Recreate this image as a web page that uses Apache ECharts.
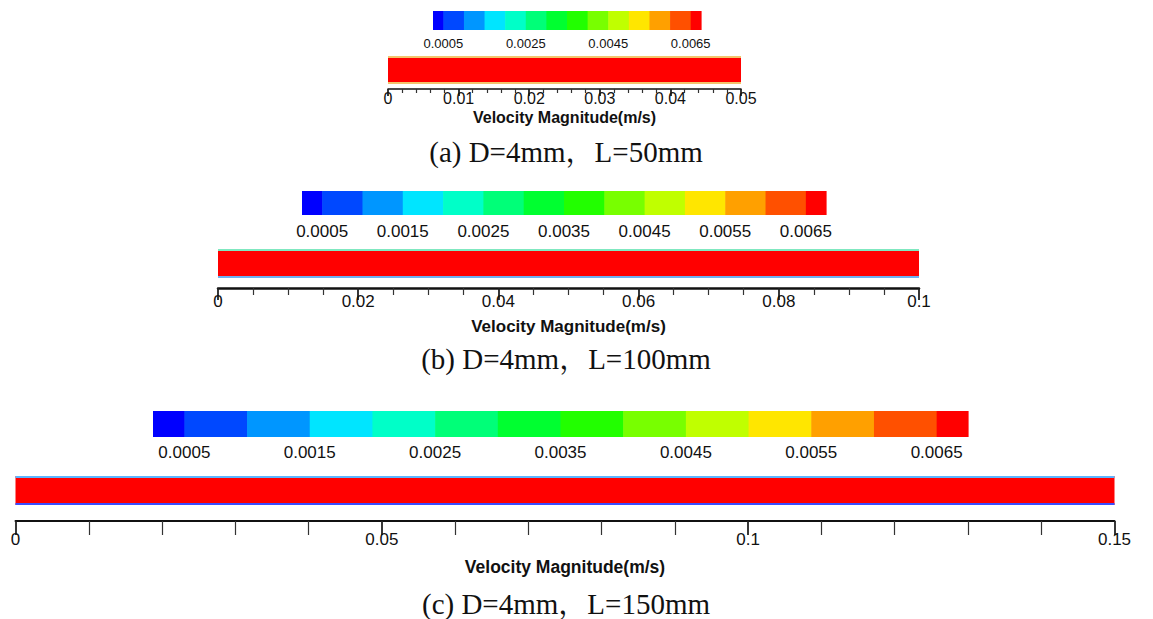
<!DOCTYPE html>
<html>
<head>
<meta charset="utf-8">
<script src="https://cdn.jsdelivr.net/npm/echarts@6/dist/echarts.min.js"></script>
<style>
html,body{margin:0;padding:0;background:#fff;}
#chart{width:1153px;height:619px;}
</style>
</head>
<body>
<div id="chart"></div>
<script>
// ---------- data ----------
const cbEdges = [0.00025, 0.0005, 0.001, 0.0015, 0.002, 0.0025, 0.003, 0.0035, 0.004, 0.0045, 0.005, 0.0055, 0.006, 0.0065, 0.00675];
const cbColors = ['#0000ff', '#0048ff', '#0096ff', '#00e5ff', '#00ffc8', '#00ff78', '#00ff30', '#22ff00', '#78ff00', '#c0ff00', '#ffe600', '#ffa000', '#ff5000', '#ff0000'];
const cbLabelsA = [0.0005, 0.0025, 0.0045, 0.0065];
const cbLabelsBC = [0.0005, 0.0015, 0.0025, 0.0035, 0.0045, 0.0055, 0.0065];
const pipeLengths = [0.05, 0.1, 0.15];
const tickIntervals = [0.01, 0.02, 0.05];
const minorSplits = [5, 4, 5];
const axisTitle = 'Velocity Magnitude(m/s)';
const captions = ['(a) D=4mm，L=50mm', '(b) D=4mm，L=100mm', '(c) D=4mm，L=150mm'];

// ---------- layout / style per panel ----------
const panels = [
  { cb: {left: 433, top: 11, width: 268, height: 19}, cbFont: 13, cbMargin: 7, cbLabels: cbLabelsA,
    pipe: {left: 388, top: 56, width: 353, height: 28}, axisY: 89, axLineW: 1.5,
    tickLen: 7, minorLen: 4, labFont: 16, labMargin: 1, nameGap: 20, nameFont: 16,
    wallTop: '#f2c46d', wallBot: '#f2c46d', capTop: 137, capFont: 29 },
  { cb: {left: 302, top: 191, width: 524, height: 24}, cbFont: 17, cbMargin: 8, cbLabels: cbLabelsBC,
    pipe: {left: 218, top: 249, width: 701, height: 29}, axisY: 288, axLineW: 2.5,
    tickLen: 12, minorLen: 7, labFont: 17, labMargin: 5, nameGap: 30, nameFont: 17,
    wallTop: '#7fe8c0', wallBot: '#6fb0f0', capTop: 344, capFont: 29 },
  { cb: {left: 153, top: 411, width: 815, height: 26}, cbFont: 17, cbMargin: 7, cbLabels: cbLabelsBC,
    pipe: {left: 15.5, top: 476, width: 1099, height: 29}, axisY: 521, axLineW: 2,
    tickLen: 14, minorLen: 14, labFont: 17, labMargin: 10, nameGap: 37, nameFont: 17.5,
    wallTop: '#5ab4ff', wallBot: '#3a4dff', capTop: 589, capFont: 29 }
];

const grids = [], xAxes = [], yAxes = [], series = [], titles = [];
const cbData = cbColors.map((c, i) => [cbEdges[i], cbEdges[i + 1], i]);
const sans = 'Liberation Sans, Arial, sans-serif';

panels.forEach((p, k) => {
  // colour bar
  const gi = grids.length;
  grids.push(p.cb);
  xAxes.push({
    gridIndex: gi, type: 'value', min: cbEdges[0], max: cbEdges[cbEdges.length - 1],
    axisLine: {show: false}, axisTick: {show: false}, splitLine: {show: false},
    axisLabel: {customValues: p.cbLabels, formatter: v => v.toFixed(4), fontSize: p.cbFont,
      fontFamily: sans, color: '#111', margin: p.cbMargin}
  });
  yAxes.push({gridIndex: gi, type: 'value', min: 0, max: 1, show: false});
  series.push({
    type: 'custom', xAxisIndex: gi, yAxisIndex: gi, data: cbData, silent: true,
    renderItem: (params, api) => {
      const s = api.coord([api.value(0), 1]);
      const e = api.coord([api.value(1), 0]);
      return {type: 'rect', shape: {x: s[0], y: s[1], width: e[0] - s[0] + 0.6, height: e[1] - s[1]},
        style: {fill: cbColors[api.value(2)]}};
    }
  });

  // pipe
  const pi = grids.length;
  grids.push(p.pipe);
  xAxes.push({gridIndex: pi, type: 'value', min: 0, max: pipeLengths[k], show: false});
  yAxes.push({gridIndex: pi, type: 'value', min: 0, max: 1, show: false});
  series.push({
    type: 'custom', xAxisIndex: pi, yAxisIndex: pi, data: [[0, pipeLengths[k]]], silent: true,
    renderItem: (params, api) => {
      const s = api.coord([api.value(0), 1]);
      const e = api.coord([api.value(1), 0]);
      const w = e[0] - s[0], h = e[1] - s[1];
      return {type: 'group', children: [
        {type: 'rect', shape: {x: s[0], y: s[1], width: w, height: h}, style: {fill: '#ff0000'}},
        {type: 'line', shape: {x1: s[0], y1: s[1] + 1, x2: e[0], y2: s[1] + 1}, style: {stroke: p.wallTop, lineWidth: 2}},
        {type: 'line', shape: {x1: s[0], y1: e[1] - 1, x2: e[0], y2: e[1] - 1}, style: {stroke: p.wallBot, lineWidth: 2}}
      ]};
    }
  });

  // length axis (its own thin grid, line at axisY)
  const ai = grids.length;
  grids.push({left: p.pipe.left, width: p.pipe.width, top: p.axisY - 1, height: 1});
  xAxes.push({
    gridIndex: ai, type: 'value', min: 0, max: pipeLengths[k], interval: tickIntervals[k],
    position: 'bottom',
    axisLine: {show: true, lineStyle: {color: '#111', width: p.axLineW}},
    axisTick: {show: true, length: p.tickLen, lineStyle: {color: '#222', width: 1.8}},
    minorTick: {show: true, splitNumber: minorSplits[k], length: p.minorLen, lineStyle: {color: '#333', width: 1.2}},
    splitLine: {show: false},
    axisLabel: {fontSize: p.labFont, fontFamily: sans, color: '#111', margin: p.labMargin},
    name: axisTitle, nameLocation: 'middle', nameGap: p.nameGap,
    nameTextStyle: {fontSize: p.nameFont, fontWeight: 'bold', fontFamily: sans, color: '#111'}
  });
  yAxes.push({gridIndex: ai, type: 'value', min: 0, max: 1, show: false});

  titles.push({
    text: captions[k], left: 566, top: p.capTop, textAlign: 'center', padding: 0,
    textStyle: {fontSize: p.capFont, fontWeight: 'normal', color: '#111',
      fontFamily: 'Liberation Serif, Times New Roman, Noto Serif CJK SC, Noto Sans CJK SC, serif'}
  });
});

const chart = echarts.init(document.getElementById('chart'), null, {renderer: 'svg'});
chart.setOption({
  animation: false,
  backgroundColor: '#fff',
  title: titles,
  grid: grids,
  xAxis: xAxes,
  yAxis: yAxes,
  series: series
});
</script>
</body>
</html>
